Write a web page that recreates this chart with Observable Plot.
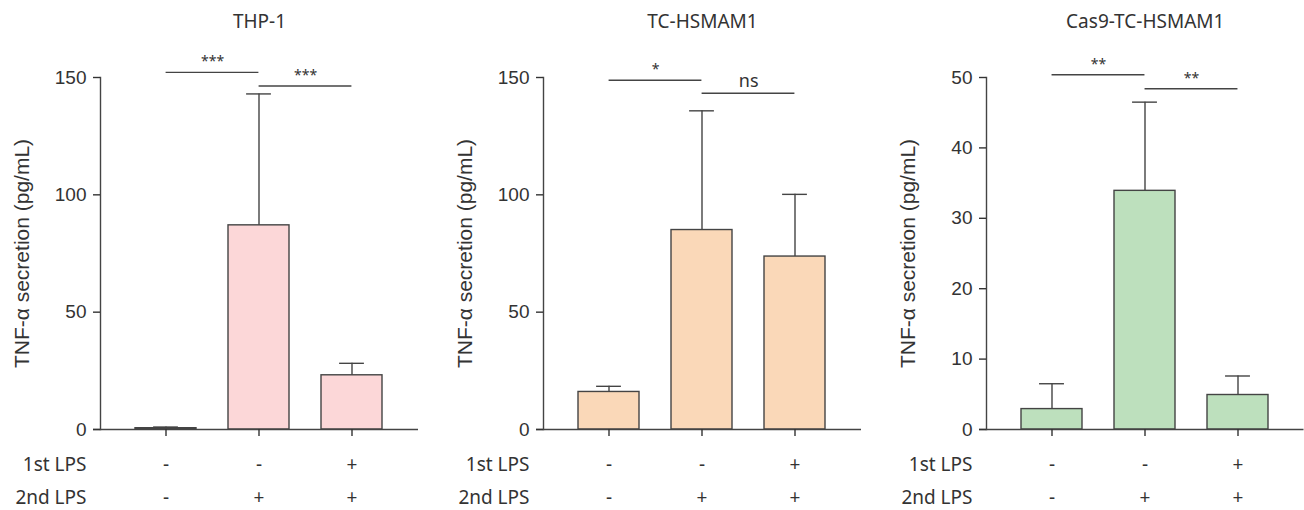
<!DOCTYPE html>
<html>
<head>
<meta charset="utf-8">
<script src="https://cdn.jsdelivr.net/npm/d3@7"></script>
<script src="https://cdn.jsdelivr.net/npm/@observablehq/plot@0.6"></script>
<style>
  body { margin: 0; background: #fff; }
  #chart { display: flex; width: 1304px; height: 510px; overflow: hidden; }
</style>
</head>
<body>
<div id="chart"></div>
<script>
// ---- data ----
const panelTitles = ["THP-1", "TC-HSMAM1", "Cas9-TC-HSMAM1"];
const firstLPS = ["-", "-", "+"];
const secondLPS = ["-", "+", "+"];
const rowLabels = ["1st LPS", "2nd LPS"];
const yLabel = "TNF-α secretion (pg/mL)";

const thp1Mean = [0.55, 87.0, 23.1];
const thp1SD = [0.5, 56.0, 5.1];
const tcMean = [16.0, 85.0, 73.7];
const tcSD = [2.4, 50.8, 26.5];
const cas9Mean = [2.9, 33.9, 4.9];
const cas9SD = [3.6, 12.6, 2.7];

const thp1Ticks = [0, 50, 100, 150];
const tcTicks = [0, 50, 100, 150];
const cas9Ticks = [0, 10, 20, 30, 40, 50];

const sigPairs = [[0, 1], [1, 2]];
const thp1Sig = ["***", "***"];
const thp1SigY = [152.2, 146.4];
const tcSig = ["*", "ns"];
const tcSigY = [148.8, 143.3];
const cas9Sig = ["**", "**"];
const cas9SigY = [50.4, 48.4];

const fills = ["#fcd7d8", "#fad8b8", "#bde0bd"];

// ---- drawing ----
const ink = "#444";
const textInk = "#333";
const labelFont = "'Noto Sans', 'Open Sans', sans-serif";
const axisFont = "'Liberation Sans', Arial, Helvetica, sans-serif";

function panel(i, mean, sd, ticks, sigLabels, sigY, width, marginRight) {
  const keys = firstLPS.map((f, j) => f + "/" + secondLPS[j]);
  const data = keys.map((k, j) => ({key: k, mean: mean[j], sd: sd[j], first: firstLPS[j], second: secondLPS[j]}));
  const sig = sigPairs.map(([a, b], j) => ({from: keys[a], to: keys[b], y: sigY[j], label: sigLabels[j]}));
  const mL = 100, mR = marginRight;
  const pi = 0.344, po = 0.3765;
  const step = (width - mL - mR) / (keys.length - pi + 2 * po);
  const bw = step * (1 - pi);
  const rowDy = [35, 68];
  const rowFields = ["first", "second"];

  const marks = [
    Plot.barY(data, {x: "key", y: "mean", fill: fills[i], stroke: ink, strokeWidth: 1.4}),
    Plot.ruleX(data, {x: "key", y1: "mean", y2: d => d.mean + d.sd, stroke: ink, strokeWidth: 1.4}),
    Plot.tickY(data, {x: "key", y: d => d.mean + d.sd, stroke: ink, strokeWidth: 1.4, inset: (bw - 25) / 2}),
    Plot.ruleY([0], {stroke: ink, strokeWidth: 1.4, insetLeft: -7}),
    Plot.frame({anchor: "left", stroke: ink, strokeWidth: 1.4}),
    Plot.axisY({ticks, tickSize: 7, tickPadding: 7, label: null, strokeWidth: 1.4,
      fontSize: 19, fontFamily: axisFont, fill: textInk}),
    Plot.axisX({tickSize: 7, tickFormat: () => "", label: null, strokeWidth: 1.4}),
    Plot.ruleY(sig, {x1: "from", x2: "to", y: "y", stroke: ink, strokeWidth: 1.4, insetLeft: bw / 2, insetRight: bw / 2}),
    Plot.text(sig, {x: "from", y: "y", text: "label", dx: step / 2, dy: -6, lineAnchor: "bottom",
      fontFamily: labelFont, fontSize: d => d.label === "ns" ? 18 : 14, fill: textInk}),
    Plot.text([panelTitles[i]], {text: d => d, frameAnchor: "top", lineAnchor: "middle", dy: -55.5,
      fontFamily: labelFont, fontSize: 19, fill: textInk}),
    Plot.text([yLabel], {text: d => d, frameAnchor: "left", textAnchor: "middle", lineAnchor: "middle",
      rotate: -90, dx: -78.4, fontSize: 21, fontFamily: axisFont, fill: textInk})
  ];
  rowLabels.forEach((lab, r) => {
    marks.push(Plot.text([lab], {text: d => d, frameAnchor: "bottom-left", lineAnchor: "middle", dx: -14, dy: rowDy[r],
      textAnchor: "end", fontFamily: labelFont, fontSize: 19, fill: textInk}));
    marks.push(Plot.text(data, {x: "key", text: rowFields[r], frameAnchor: "bottom", lineAnchor: "middle", dy: rowDy[r],
      fontFamily: labelFont, fontSize: 19, fill: textInk}));
  });

  return Plot.plot({
    width, height: 510,
    marginTop: 77, marginBottom: 81, marginLeft: mL, marginRight: mR,
    style: {fontFamily: axisFont, fontSize: "19px", color: textInk, background: "#fff"},
    x: {domain: keys, paddingInner: pi, paddingOuter: po},
    y: {domain: [0, ticks[ticks.length - 1]]},
    marks
  });
}

const chart = document.getElementById("chart");
chart.append(panel(0, thp1Mean, thp1SD, thp1Ticks, thp1Sig, thp1SigY, 443, 25));
chart.append(panel(1, tcMean, tcSD, tcTicks, tcSig, tcSigY, 443, 25));
chart.append(panel(2, cas9Mean, cas9SD, cas9Ticks, cas9Sig, cas9SigY, 418, 0.5));
</script>
</body>
</html>
